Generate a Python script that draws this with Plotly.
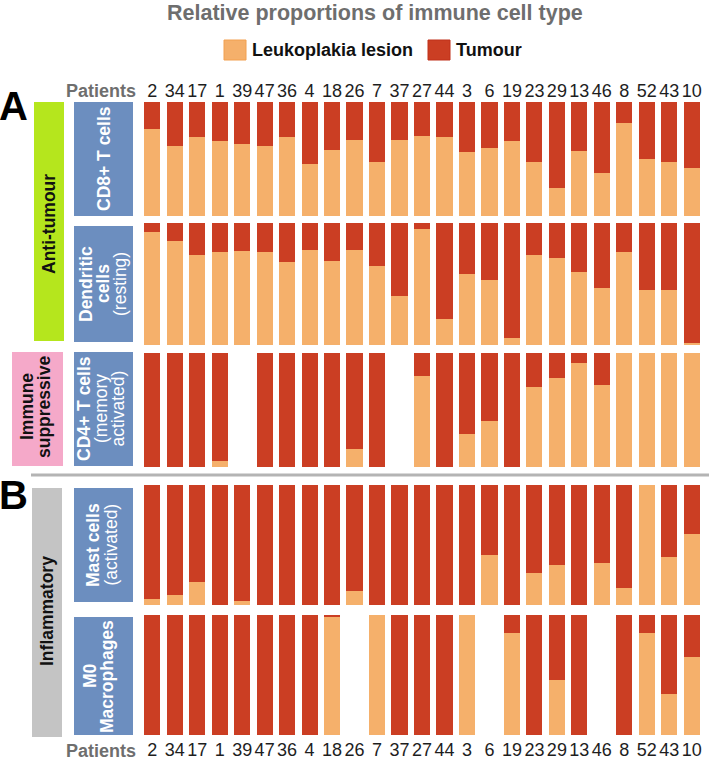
import plotly.graph_objects as go

W, H = 709, 760

patients = ["2", "34", "17", "1", "39", "47", "36", "4", "18", "26", "7", "37", "27",
            "44", "3", "6", "19", "23", "29", "13", "46", "8", "52", "43", "10"]

# Relative proportions (Leukoplakia lesion vs Tumour); None = not available
cd8_leuk = [0.76, 0.61, 0.69, 0.66, 0.63, 0.61, 0.69, 0.46, 0.58, 0.67, 0.47, 0.67, 0.70,
            0.69, 0.56, 0.60, 0.66, 0.47, 0.25, 0.57, 0.38, 0.82, 0.50, 0.47, 0.42]
cd8_tum = [0.24, 0.39, 0.31, 0.34, 0.37, 0.39, 0.31, 0.54, 0.42, 0.33, 0.53, 0.33, 0.30,
           0.31, 0.44, 0.40, 0.34, 0.53, 0.75, 0.43, 0.62, 0.18, 0.50, 0.53, 0.58]

dc_leuk = [0.93, 0.85, 0.74, 0.76, 0.77, 0.76, 0.68, 0.78, 0.69, 0.78, 0.65, 0.40, 0.95,
           0.21, 0.58, 0.53, 0.06, 0.74, 0.71, 0.60, 0.47, 0.76, 0.45, 0.45, 0.02]
dc_tum = [0.07, 0.15, 0.26, 0.24, 0.23, 0.24, 0.32, 0.22, 0.31, 0.22, 0.35, 0.60, 0.05,
          0.79, 0.42, 0.47, 0.94, 0.26, 0.29, 0.40, 0.53, 0.24, 0.55, 0.55, 0.98]

cd4_leuk = [0, 0, 0, 0.05, None, 0, 0, 0, 0, 0.16, 0, None, 0.80,
            0, 0.29, 0.40, 0, 0.70, 0.78, 0.91, 0.72, 1, 1, 1, 1]
cd4_tum = [1, 1, 1, 0.95, None, 1, 1, 1, 1, 0.84, 1, None, 0.20,
           1, 0.71, 0.60, 1, 0.30, 0.22, 0.09, 0.28, 0, 0, 0, 0]

mast_leuk = [0.05, 0.08, 0.19, 0, 0.03, 0, 0, 0, 0, 0.12, 0, 0, 0,
             0, 0, 0.42, 0, 0.27, 0.33, 0, 0.35, 0.14, 1, 0.40, 0.59]
mast_tum = [0.95, 0.92, 0.81, 1, 0.97, 1, 1, 1, 1, 0.88, 1, 1, 1,
            1, 1, 0.58, 1, 0.73, 0.67, 1, 0.65, 0.86, 0, 0.60, 0.41]

m0_leuk = [0, 0, 0, 0, 0, 0, 0, 0, 0.985, None, 1, 0, 0,
           0, 1, None, 0.85, 0, 0.46, 0, None, 0, 0.85, 0.34, 0.65]
m0_tum = [1, 1, 1, 1, 1, 1, 1, 1, 0.015, None, 0, 1, 1,
          1, 0, None, 0.15, 1, 0.54, 1, None, 1, 0.15, 0.66, 0.35]

panels = [
    ("CD8+ T cells", cd8_leuk, cd8_tum),
    ("Dendritic cells (resting)", dc_leuk, dc_tum),
    ("CD4+ T cells (memory activated)", cd4_leuk, cd4_tum),
    ("Mast cells (activated)", mast_leuk, mast_tum),
    ("M0 Macrophages", m0_leuk, m0_tum),
]
series_names = ["Leukoplakia lesion", "Tumour"]

LEUK_C = "#F5B06B"
TUM_C = "#CB3E23"
BLUE = "#6C8EBF"
FONT = "Liberation Sans"
FS = 17.5


def px(x):
    return x / W


def py(y):
    return 1 - y / H


# panel pixel extents (top, bottom)
panel_y = [(102, 216), (223, 345), (353, 467), (485, 605), (615, 735)]
x_dom = [px(141), px(703)]

fig = go.Figure()
xs = list(range(len(patients)))
for i, (name, leuk, tum) in enumerate(panels):
    k = "" if i == 0 else str(i + 1)
    fig.add_trace(go.Bar(x=xs, y=leuk, name=series_names[0], marker_color=LEUK_C,
                         marker_line_width=0, showlegend=False,
                         xaxis="x" + k, yaxis="y" + k))
    fig.add_trace(go.Bar(x=xs, y=tum, name=series_names[1], marker_color=TUM_C,
                         marker_line_width=0, showlegend=False,
                         xaxis="x" + k, yaxis="y" + k))

layout = dict(
    width=W, height=H, margin=dict(l=0, r=0, t=0, b=0),
    paper_bgcolor="white", plot_bgcolor="white",
    barmode="stack", bargap=0.28, showlegend=False,
    font=dict(family=FONT, color="#222222"),
)
for i, (t, b) in enumerate(panel_y):
    k = "" if i == 0 else str(i + 1)
    xa = dict(domain=x_dom, range=[-0.5, len(patients) - 0.5], anchor="y" + k,
              showgrid=False, zeroline=False, showline=False, ticks="",
              tickmode="array", tickvals=xs, ticktext=patients,
              showticklabels=False, tickfont=dict(family=FONT, size=18, color="#1e1e1e"))
    if i == 0:
        xa.update(showticklabels=True, side="top", ticklabelstandoff=0)
    if i == len(panel_y) - 1:
        xa.update(showticklabels=True, side="bottom", ticklabelstandoff=2)
    ya = dict(domain=[py(b), py(t)], range=[0, 1], anchor="x" + k, visible=False,
              showgrid=False, zeroline=False)
    layout["xaxis" + k] = xa
    layout["yaxis" + k] = ya
fig.update_layout(**layout)

shapes = []
annotations = []


def box(x0, y0, x1, y1, color, line=None):
    shapes.append(dict(type="rect", xref="paper", yref="paper", x0=px(x0), x1=px(x1),
                       y0=py(y1), y1=py(y0), fillcolor=color,
                       line=dict(width=0) if line is None else dict(width=1, color=line),
                       layer="below"))


def text(x, y, s, color, size, angle=0, anchor="center", bold=False):
    annotations.append(dict(xref="paper", yref="paper", x=px(x), y=py(y),
                            text=("<b>%s</b>" % s) if bold else s,
                            textangle=angle, showarrow=False, xanchor=anchor, yanchor="middle",
                            font=dict(family=FONT, size=size, color=color)))


# group boxes
box(34, 102, 64, 341, "#B5E61D")
text(49, 224, "Anti-tumour", "#111111", FS, -90, bold=True)
box(12, 352, 63, 466, "#F5A9C9")
text(27, 407, "Immune", "#111111", FS, -90, bold=True)
text(44, 407, "suppressive", "#111111", FS, -90, bold=True)
box(32, 488, 62, 737, "#C4C4C4")
text(47, 611, "Inflammatory", "#111111", FS, -90, bold=True)

# cell type boxes: (box), [(x_center, text, bold)]
cell_boxes = [
    ((74, 102, 133, 216), [(104, "CD8+ T cells", True)]),
    ((74, 226, 133, 342), [(86, "Dendritic", True), (103, "cells", True), (120, "(resting)", False)]),
    ((74, 352, 133, 466), [(84, "CD4+ T cells", True), (101, "(memory", False), (117.5, "activated)", False)]),
    ((74, 488, 133, 602), [(93, "Mast cells", True), (110.5, "(activated)", False)]),
    ((74, 617, 133, 735), [(90, "M0", True), (107, "Macrophages", True)]),
]
for (x0, y0, x1, y1), lines in cell_boxes:
    box(x0, y0, x1, y1, BLUE)
    for xc, s, b in lines:
        text(xc, (y0 + y1) / 2, s, "white", FS, -90, bold=b)

# separator
shapes.append(dict(type="line", xref="paper", yref="paper", x0=px(31), x1=px(709),
                   y0=py(475), y1=py(475), line=dict(color="#B4B4B4", width=3)))

# title
text(375, 13, "Relative proportions of immune cell type", "#6E6E6E", 21.5, bold=True)

# legend (drawn)
box(224, 40, 246, 60, LEUK_C, line="#F2A050")
text(250, 50, series_names[0], "#111111", 18, anchor="left", bold=True)
box(428, 40, 450, 60, TUM_C, line="#C0301A")
text(454, 50, series_names[1], "#111111", 18, anchor="left", bold=True)

# Patients labels
for yy in (91, 751):
    text(138, yy, "Patients", "#6E6E6E", 18, anchor="right", bold=True)

# panel letters
text(13.5, 106, "A", "black", 40, bold=True)
text(13.5, 495, "B", "black", 40, bold=True)

fig.update_layout(shapes=shapes, annotations=annotations)
fig.write_html("out.html", config={"displayModeBar": False},
               post_script="document.body.style.margin='0';document.body.style.overflow='hidden';")
